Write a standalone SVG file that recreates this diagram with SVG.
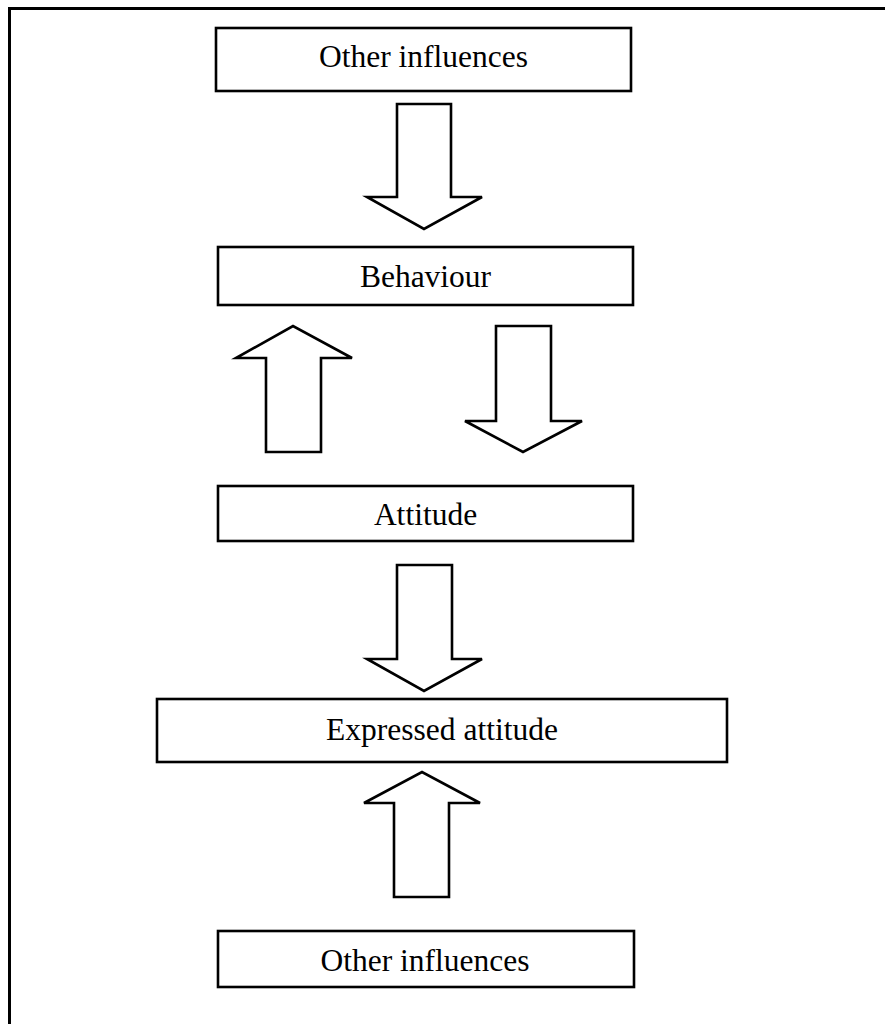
<svg xmlns="http://www.w3.org/2000/svg" width="885" height="1024" viewBox="0 0 885 1024">
<style>
.box{fill:#fff;stroke:#000;stroke-width:2.6}
.arr{fill:#fff;stroke:#000;stroke-width:2.6;stroke-linejoin:miter}
.lbl{font-family:"Liberation Serif","Times New Roman",serif;font-size:31.5px;fill:#000;text-anchor:middle}
.frame{fill:none;stroke:#000;stroke-width:3}
</style>
<rect width="885" height="1024" fill="#fff"/>
<path class="frame" d="M9.5,1024 V8.5 H885"/>
<g id="connectors">
<polygon class="arr" points="397,104 451,104 451,197 482,197 424,229 367,197 397,197"/>
<polygon class="arr" points="266,452 321,452 321,358 352,358 293,326 236,358 266,358"/>
<polygon class="arr" points="496,326 551,326 551,421 582,421 523,452 465,421 496,421"/>
<polygon class="arr" points="397,565 452,565 452,659 482,659 424,691 367,659 397,659"/>
<polygon class="arr" points="394,897 449,897 449,803 480,803 422,772 364,803 394,803"/>
</g>
<g id="node-other-top">
<rect class="box" x="216" y="28" width="415" height="63"/>
<text class="lbl" x="423.5" y="67">Other influences</text>
</g>
<g id="node-behaviour">
<rect class="box" x="218" y="247" width="415" height="58"/>
<text class="lbl" x="425.5" y="287">Behaviour</text>
</g>
<g id="node-attitude">
<rect class="box" x="218" y="486" width="415" height="55"/>
<text class="lbl" x="425.5" y="525">Attitude</text>
</g>
<g id="node-expressed">
<rect class="box" x="157" y="699" width="570" height="63"/>
<text class="lbl" x="442" y="740">Expressed attitude</text>
</g>
<g id="node-other-bottom">
<rect class="box" x="218" y="931" width="416" height="56"/>
<text class="lbl" x="425" y="971">Other influences</text>
</g>
</svg>
